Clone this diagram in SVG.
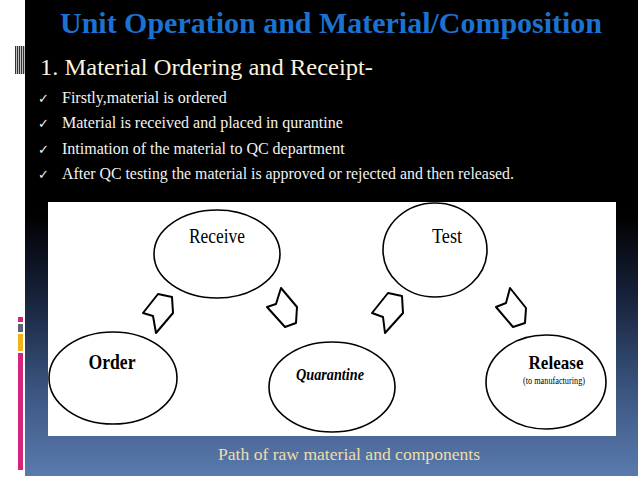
<svg xmlns="http://www.w3.org/2000/svg" width="638" height="479" viewBox="0 0 638 479">
<defs>
<linearGradient id="bg" x1="0" y1="0" x2="0" y2="1">
<stop offset="0" stop-color="#000000"/>
<stop offset="0.45" stop-color="#000000"/>
<stop offset="0.62" stop-color="#16213a"/>
<stop offset="0.82" stop-color="#3b5580"/>
<stop offset="1" stop-color="#5a7aae"/>
</linearGradient>
</defs>
<style>
.node ellipse{fill:#ffffff;stroke:#000000;stroke-width:1.6}
.arrow{fill:#ffffff;stroke:#000000;stroke-width:2;stroke-linejoin:round}
.serif{font-family:"Liberation Serif","Times New Roman",serif}
.lbl{fill:#000000;text-anchor:middle}
.title{font-weight:bold;font-size:30px;fill:#1b72d1}
.sub{font-size:24px;fill:#fbf3df}
.bul{font-size:16px;fill:#f2f2f2}
.chk{font-family:"DejaVu Sans",sans-serif;font-size:13px;fill:#f2f2f2}
.cap{font-size:16px;fill:#eedfa8;text-anchor:middle}
</style>
<rect x="0" y="0" width="638" height="479" fill="#ffffff"/>
<rect x="25" y="0" width="613" height="476" fill="url(#bg)"/>
<g id="barcode">
<rect x="15" y="46" width="10" height="28" fill="#bdbdbd"/>
<rect x="15" y="46" width="1" height="28" fill="#333"/>
<rect x="17" y="46" width="1" height="28" fill="#333"/>
<rect x="19" y="46" width="1" height="28" fill="#333"/>
<rect x="21" y="46" width="1" height="28" fill="#333"/>
<rect x="23" y="46" width="1" height="28" fill="#333"/>
</g>
<g id="sidebar">
<rect x="18" y="317" width="5" height="5" fill="#d6247a"/>
<rect x="18" y="324" width="5" height="8" fill="#5a6474"/>
<rect x="18" y="334" width="5" height="17" fill="#f0b418"/>
<rect x="18" y="353" width="5" height="117" fill="#d6247a"/>
</g>
<text class="serif title" x="60" y="33" textLength="542" lengthAdjust="spacingAndGlyphs">Unit Operation and Material/Composition</text>
<text class="serif sub" x="40" y="75" textLength="333" lengthAdjust="spacingAndGlyphs">1. Material Ordering and Receipt-</text>
<g id="bullets">
<text class="chk" x="38" y="103">✓</text>
<text class="serif bul" x="62" y="103">Firstly,material is ordered</text>
<text class="chk" x="38" y="128">✓</text>
<text class="serif bul" x="62" y="128">Material is received and placed in qurantine</text>
<text class="chk" x="38" y="154">✓</text>
<text class="serif bul" x="62" y="154">Intimation of the material to QC department</text>
<text class="chk" x="38" y="179">✓</text>
<text class="serif bul" x="62" y="179" textLength="452" lengthAdjust="spacingAndGlyphs">After QC testing the material is approved or rejected and then released.</text>
</g>
<rect x="48" y="202" width="568" height="234" fill="#ffffff"/>
<g id="n-receive" class="node">
<ellipse cx="217" cy="254" rx="63" ry="44"/>
<text class="serif lbl" x="217" y="243" font-size="20" textLength="56" lengthAdjust="spacingAndGlyphs">Receive</text>
</g>
<g id="n-test" class="node">
<ellipse cx="435" cy="250" rx="52" ry="47"/>
<text class="serif lbl" x="447" y="243" font-size="20" textLength="30" lengthAdjust="spacingAndGlyphs">Test</text>
</g>
<g id="n-order" class="node">
<ellipse cx="113" cy="378" rx="64" ry="46"/>
<text class="serif lbl" x="112" y="369" font-size="20" font-weight="bold" textLength="47" lengthAdjust="spacingAndGlyphs">Order</text>
</g>
<g id="n-quarantine" class="node">
<ellipse cx="332" cy="387" rx="63" ry="45"/>
<text class="serif lbl" x="330" y="380" font-size="17" font-weight="bold" font-style="italic" textLength="68" lengthAdjust="spacingAndGlyphs">Quarantine</text>
</g>
<g id="n-release" class="node">
<ellipse cx="546" cy="382" rx="60" ry="47"/>
<text class="serif lbl" x="556" y="369" font-size="19" font-weight="bold" textLength="55" lengthAdjust="spacingAndGlyphs">Release</text>
<text class="serif lbl" x="554" y="384" font-size="10" textLength="62" lengthAdjust="spacingAndGlyphs">(to manufacturing)</text>
</g>
<g id="connectors">
<polygon class="arrow" points="158,294 172,297 173,313 156,333 153,316 143,313"/>
<polygon class="arrow" points="281,288 297,307 296,323 285,327 267,307 276,304"/>
<polygon class="arrow" points="388,293 402,296 403,313 385,333 383,317 372,313"/>
<polygon class="arrow" points="510,288 526,308 525,323 513,327 496,307 506,303"/>
</g>
<text class="serif cap" x="349" y="460" textLength="262" lengthAdjust="spacingAndGlyphs">Path of raw material and components</text>
</svg>
